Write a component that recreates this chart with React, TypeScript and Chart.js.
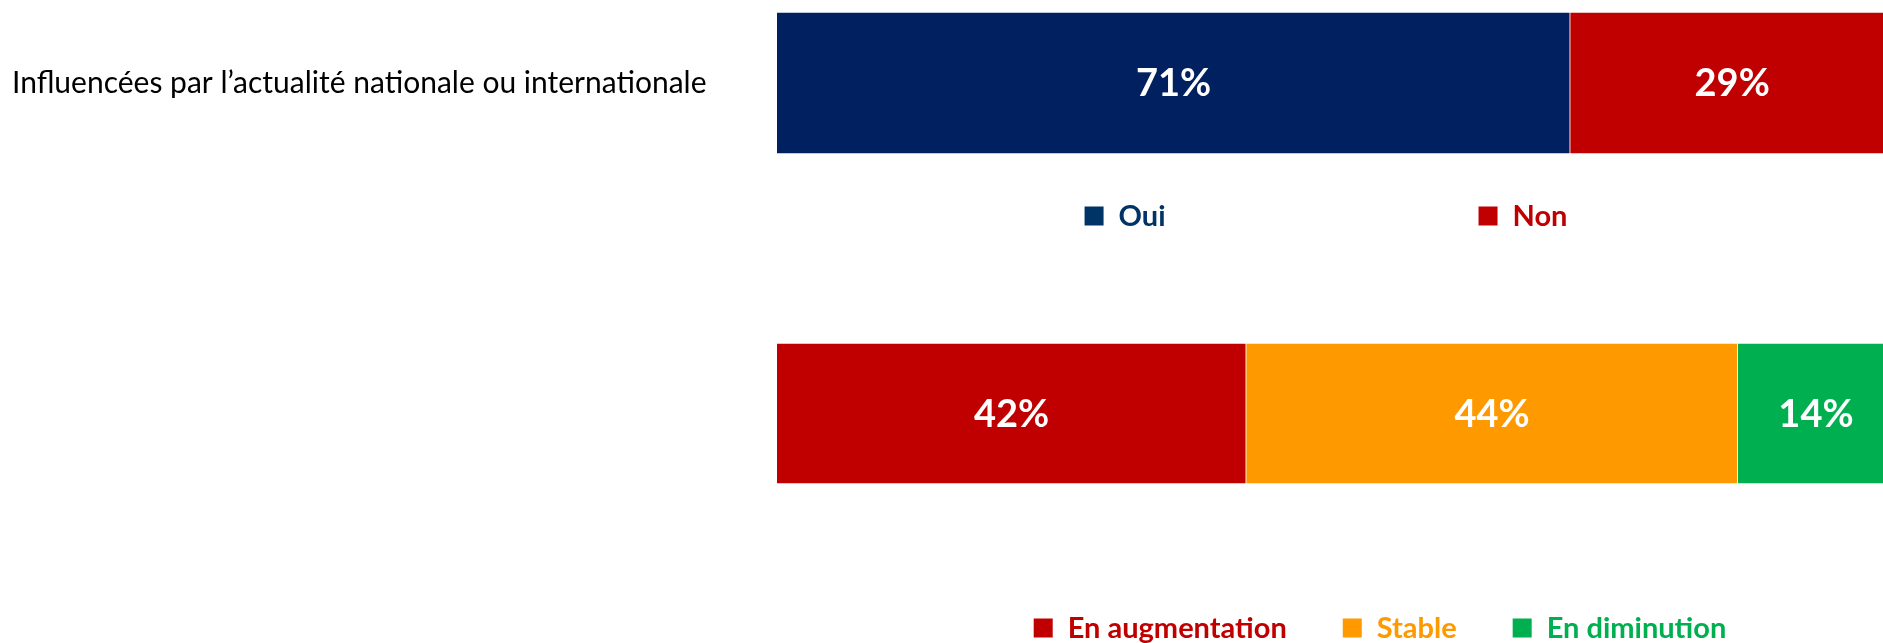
import React, { useEffect, useRef } from "react";
import { Chart, registerables } from "chart.js";

Chart.register(...registerables);

// ---- Data ----
const topCategories = ["Influencées par l’actualité nationale ou internationale"];
const topSeriesNames = ["Oui", "Non"];
const ouiValues = [71];
const nonValues = [29];

const bottomCategories = [""];
const bottomSeriesNames = ["En augmentation", "Stable", "En diminution"];
const augmentationValues = [42];
const stableValues = [44];
const diminutionValues = [14];

// ---- Styles ----
const FONT = "Lato";
const topBarColors = ["#002060", "#C00000"];
const topLegendColors = ["#003366", "#C00000"];
const bottomBarColors = ["#C00000", "#FF9900", "#00B050"];
const bottomLegendColors = ["#C00000", "#FF9900", "#00B050"];

const valueLabelPlugin = {
  id: "valueLabels",
  afterDatasetsDraw(chart: any, _args: any, opts: any) {
    const ctx = chart.ctx;
    ctx.save();
    ctx.font = `bold ${opts.fontSize || 38}px ${FONT}`;
    ctx.fillStyle = "#ffffff";
    ctx.textAlign = "center";
    ctx.textBaseline = "middle";
    chart.data.datasets.forEach((ds: any, i: number) => {
      const meta = chart.getDatasetMeta(i);
      meta.data.forEach((el: any, j: number) => {
        const v = ds.data[j];
        const p = el.getProps(["x", "y", "base"], true);
        ctx.fillText(`${v}%`, (p.x + p.base) / 2, p.y + 1);
      });
    });
    ctx.restore();
  },
};

const customLegendPlugin = {
  id: "customLegend",
  afterDraw(chart: any, _args: any, opts: any) {
    const ctx = chart.ctx;
    ctx.save();
    ctx.font = `bold ${opts.fontSize}px ${FONT}`;
    ctx.textBaseline = "middle";
    ctx.textAlign = "left";
    const items = chart.data.datasets.map((ds: any) => ({
      text: ds.label,
      color: ds.legendColor,
    }));
    const widths = items.map(
      (it: any) => opts.box + opts.boxGap + ctx.measureText(it.text).width
    );
    const total =
      widths.reduce((a: number, b: number) => a + b, 0) +
      opts.gap * (items.length - 1);
    let x = opts.centerX - total / 2;
    const y = opts.y;
    items.forEach((it: any, i: number) => {
      ctx.fillStyle = it.color;
      ctx.fillRect(x, y - opts.box / 2, opts.box, opts.box);
      ctx.fillText(it.text, x + opts.box + opts.boxGap, y + 1);
      x += widths[i] + opts.gap;
    });
    ctx.restore();
  },
};

function makeOptions(padTop: number, padBottom: number, legend: any) {
  return {
    indexAxis: "y" as const,
    responsive: true,
    maintainAspectRatio: false,
    animation: false as const,
    layout: { padding: { top: padTop, bottom: padBottom, left: 12, right: 0 } },
    scales: {
      x: { stacked: true, display: false, min: 0, max: 99 },
      y: {
        stacked: true,
        grid: { display: false, drawTicks: false },
        border: { display: false },
        ticks: {
          crossAlign: "far" as const,
          color: "#000000",
          padding: 0,
          font: { family: FONT, size: 30, lineHeight: 0.7 },
        },
        afterFit: (scale: any) => {
          scale.width = 765;
        },
      },
    },
    plugins: {
      legend: { display: false },
      tooltip: { enabled: false },
      customLegend: legend,
      valueLabels: { fontSize: 38 },
    },
  };
}

function ChartBox({ height, config }: { height: number; config: () => any }) {
  const ref = useRef<HTMLCanvasElement | null>(null);
  useEffect(() => {
    if (!ref.current) return;
    const chart = new Chart(ref.current, config());
    return () => chart.destroy();
  }, []);
  return (
    <div style={{ position: "relative", width: "100%", height }}>
      <canvas ref={ref} style={{ display: "block" }} />
    </div>
  );
}

const barStyle = {
  barPercentage: 1,
  categoryPercentage: 1,
  borderColor: "rgba(255,255,255,0.9)",
  borderWidth: 1,
};

export default function App() {
  useEffect(() => {
    document.body.style.margin = "0";
  }, []);

  const topConfig = () => ({
    type: "bar",
    data: {
      labels: topCategories,
      datasets: [
        {
          label: topSeriesNames[0],
          data: ouiValues,
          backgroundColor: topBarColors[0],
          legendColor: topLegendColors[0],
        },
        {
          label: topSeriesNames[1],
          data: nonValues,
          backgroundColor: topBarColors[1],
          legendColor: topLegendColors[1],
        },
      ].map((d) => ({ ...d, ...barStyle })),
    },
    options: makeOptions(12, 108, {
      centerX: 1326,
      y: 216,
      gap: 313,
      box: 19,
      boxGap: 15,
      fontSize: 29,
    }),
    plugins: [valueLabelPlugin, customLegendPlugin],
  });

  const bottomConfig = () => ({
    type: "bar",
    data: {
      labels: bottomCategories,
      datasets: [
        {
          label: bottomSeriesNames[0],
          data: augmentationValues,
          backgroundColor: bottomBarColors[0],
          legendColor: bottomLegendColors[0],
        },
        {
          label: bottomSeriesNames[1],
          data: stableValues,
          backgroundColor: bottomBarColors[1],
          legendColor: bottomLegendColors[1],
        },
        {
          label: bottomSeriesNames[2],
          data: diminutionValues,
          backgroundColor: bottomBarColors[2],
          legendColor: bottomLegendColors[2],
        },
      ].map((d) => ({ ...d, ...barStyle })),
    },
    options: makeOptions(81, 159, {
      centerX: 1380,
      y: 366,
      gap: 56,
      box: 19,
      boxGap: 15,
      fontSize: 29,
    }),
    plugins: [valueLabelPlugin, customLegendPlugin],
  });

  return (
    <div>
      <ChartBox height={262} config={topConfig} />
      <ChartBox height={381} config={bottomConfig} />
    </div>
  );
}
